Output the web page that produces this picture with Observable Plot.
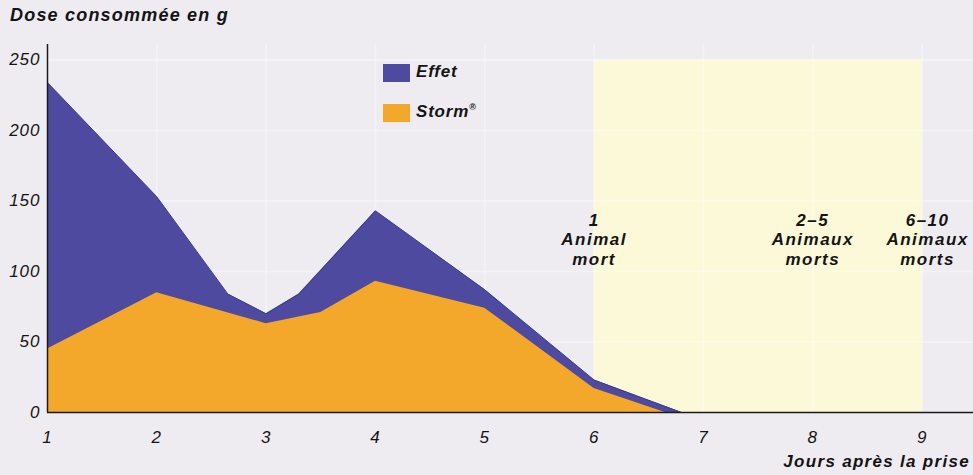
<!DOCTYPE html>
<html>
<head>
<meta charset="utf-8">
<script src="https://cdn.jsdelivr.net/npm/d3@7"></script>
<script src="https://cdn.jsdelivr.net/npm/@observablehq/plot@0.6"></script>
<style>
  html, body { margin: 0; padding: 0; background: #eeecf1; }
  #wrap { position: relative; width: 973px; height: 475px; overflow: hidden; font-family: "Liberation Sans", Arial, sans-serif; }
  .lbl { position: absolute; font-weight: bold; font-style: italic; color: #141414; white-space: nowrap; }
  #title { left: 10px; top: 5px; font-size: 18px; letter-spacing: 1.2px; }
  #xlabel { right: 3px; top: 452px; font-size: 17px; letter-spacing: 1.3px; }
  .key { position: absolute; width: 27px; height: 18px; }
  .keytxt { position: absolute; font-size: 17px; font-weight: bold; font-style: italic; color: #141414; letter-spacing: 0.8px; }
  g[aria-label="text"] text { letter-spacing: 1.5px; }
  g[aria-label="y-axis tick label"] text, g[aria-label="x-axis tick label"] text { letter-spacing: 1px; }
</style>
</head>
<body>
<div id="wrap"></div>
<script>
// ---- data ----
const effetDays   = [1, 2, 2.65, 3, 3.3, 4, 5, 6, 6.8, 9.5];
const effetValues = [234, 153, 84, 70, 84, 143, 87, 23, 0, 0];
const stormDays   = [1, 2, 3, 3.5, 4, 5, 6, 6.65];
const stormValues = [45, 85, 63, 71, 93, 74, 17, 0];
const xTicks = [1, 2, 3, 4, 5, 6, 7, 8, 9];
const yTicks = [0, 50, 100, 150, 200, 250];
const shadeStart = [6], shadeEnd = [9], shadeTop = [250];
const annotDays = [6, 8, 9.05];
const annotLabels = ["1\nAnimal\nmort", "2–5\nAnimaux\nmorts", "6–10\nAnimaux\nmorts"];
const annotLevel = 123;
const seriesNames = ["Effet", "Storm®"];
const seriesColors = ["#4e4a9f", "#f3a72b"];
const titleText = "Dose consommée en g";
const xLabelText = "Jours après la prise";

const effet = effetDays.map((d, i) => ({day: d, value: effetValues[i]}));
const storm = stormDays.map((d, i) => ({day: d, value: stormValues[i]}));
const shade = shadeStart.map((s, i) => ({x1: s, x2: shadeEnd[i], top: shadeTop[i]}));
const annots = annotDays.map((d, i) => ({day: d, label: annotLabels[i], y: annotLevel}));

const chart = Plot.plot({
  width: 973,
  height: 475,
  marginLeft: 47,
  marginRight: 0,
  marginTop: 44,
  marginBottom: 63,
  x: {domain: [1, 9.47]},
  y: {domain: [0, 261]},
  style: {background: "transparent", fontFamily: "Liberation Sans, Arial, sans-serif", color: "#141414"},
  marks: [
    Plot.rect(shade, {x1: "x1", x2: "x2", y1: 0, y2: "top", fill: "#fcf9d8"}),
    Plot.gridX(xTicks, {stroke: "#ffffff", strokeOpacity: 0.3, strokeWidth: 2}),
    Plot.gridY(yTicks.filter(d => d > 0), {stroke: "#ffffff", strokeOpacity: 0.3, strokeWidth: 2}),
    Plot.areaY(effet, {x: "day", y: "value", fill: seriesColors[0]}),
    Plot.lineY(effet, {x: "day", y: "value", stroke: "#3d3a8a", strokeWidth: 1}),
    Plot.areaY(storm, {x: "day", y: "value", fill: seriesColors[1]}),
    Plot.ruleY([0], {stroke: "#1a1a1a", strokeWidth: 1.5}),
    Plot.ruleX([1], {stroke: "#1a1a1a", strokeWidth: 1.5}),
    Plot.axisY(yTicks, {tickSize: 0, tickPadding: 7, fontSize: 17, fontStyle: "italic", label: null}),
    Plot.axisX(xTicks, {tickSize: 0, tickPadding: 18, fontSize: 17, fontStyle: "italic", label: null}),
    Plot.text(annots, {x: "day", y: "y", text: "label", fontSize: 17, fontWeight: "bold", fontStyle: "italic", lineHeight: 1.15, lineAnchor: "middle", fill: "#141414"})
  ]
});

const wrap = document.getElementById("wrap");
wrap.appendChild(chart);
chart.style.position = "absolute";
chart.style.left = "0"; chart.style.top = "0";

const t = document.createElement("div"); t.className = "lbl"; t.id = "title"; t.textContent = titleText; wrap.appendChild(t);
const xl = document.createElement("div"); xl.className = "lbl"; xl.id = "xlabel"; xl.textContent = xLabelText; wrap.appendChild(xl);

const keyTops = [64, 104];
seriesNames.forEach((name, i) => {
  const k = document.createElement("div"); k.className = "key";
  k.style.left = "383px"; k.style.top = keyTops[i] + "px"; k.style.background = seriesColors[i];
  wrap.appendChild(k);
  const kt = document.createElement("div"); kt.className = "keytxt";
  kt.style.left = "416px"; kt.style.top = (keyTops[i] - 2) + "px";
  if (name.endsWith("®")) {
    kt.innerHTML = name.slice(0, -1) + '<sup style="font-size:9px;font-style:normal;vertical-align:7px">®</sup>';
  } else kt.textContent = name;
  wrap.appendChild(kt);
});
</script>
</body>
</html>
